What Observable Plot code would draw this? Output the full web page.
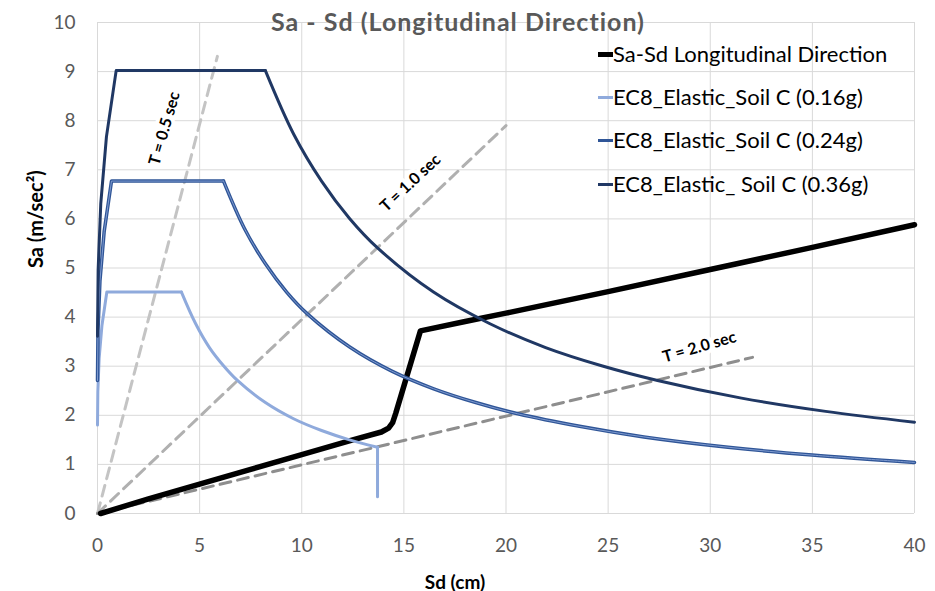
<!DOCTYPE html>
<html>
<head>
<meta charset="utf-8">
<script src="https://cdn.jsdelivr.net/npm/d3@7"></script>
<script src="https://cdn.jsdelivr.net/npm/@observablehq/plot@0.6"></script>
<style>
  body { margin: 0; background: #fff; font-family: Lato, "Open Sans", sans-serif; }
  #wrap { position: relative; width: 935px; height: 591px; overflow: hidden; }
  .legend { position: absolute; left: 598px; top: 0; }
  .item { position: absolute; left: 0; height: 26px; line-height: 26px; white-space: nowrap;
          font-size: 22px; color: #000; display: flex; align-items: center; }
  .sw { width: 15px; display: inline-block; }
</style>
</head>
<body>
<div id="wrap"></div>
<script>
// Axis ticks
const xTicks = [0, 5, 10, 15, 20, 25, 30, 35, 40];
const yTicks = [0, 1, 2, 3, 4, 5, 6, 7, 8, 9, 10];

// Capacity curve, longitudinal direction (Sd in cm, Sa in m/sec²)
const sdCap = [0.15, 2.5, 5, 7.5, 10, 12.5, 13.9, 14.25, 14.45, 14.6, 15.81, 18, 20, 25, 30, 35, 40];
const saCap = [0, 0.30, 0.60, 0.90, 1.20, 1.50, 1.66, 1.74, 1.85, 2.04, 3.72, 3.91, 4.08, 4.52, 4.97, 5.42, 5.88];

// EC8 elastic spectrum, soil C, 0.16g
const sd016 = [0, 0.016, 0.080, 0.218, 0.457, 4.11, 4.80, 5.48, 6.17, 6.85, 8.22, 9.60, 10.97, 12.34, 13.71, 13.71];
const sa016 = [1.80, 2.48, 3.16, 3.83, 4.51, 4.51, 3.87, 3.38, 3.01, 2.71, 2.26, 1.93, 1.69, 1.50, 1.35, 0.34];

// EC8 elastic spectrum, soil C, 0.24g
const sd024 = [0, 0.024, 0.120, 0.328, 0.686, 6.17, 7.20, 8.23, 9.26, 10.29, 12.35, 14.41, 16.46, 18.52, 20.58, 23.67, 26.75, 30.87, 34.99, 40.0];
const sa024 = [2.71, 3.72, 4.74, 5.75, 6.77, 6.77, 5.80, 5.08, 4.51, 4.06, 3.39, 2.90, 2.54, 2.26, 2.03, 1.77, 1.56, 1.35, 1.19, 1.04];

// EC8 elastic spectrum, soil C, 0.36g
const sd036 = [0, 0.031, 0.160, 0.437, 0.914, 8.22, 9.60, 10.97, 12.34, 13.71, 16.45, 19.19, 21.94, 24.68, 27.42, 31.53, 35.65, 40.0];
const sa036 = [3.61, 4.96, 6.31, 7.67, 9.02, 9.02, 7.73, 6.77, 6.01, 5.41, 4.51, 3.87, 3.38, 3.01, 2.71, 2.35, 2.08, 1.86];

// Constant-period radial lines (from the origin to these end points)
const periodNames = ["T = 0.5 sec", "T = 1.0 sec", "T = 2.0 sec"];
const periodEndSd = [5.87, 20.0, 32.07];
const periodEndSa = [9.31, 7.90, 3.18];
const periodColors = ["#c4c4c4", "#b0b0b0", "#8e8e8e"];
const periodLabelSd = [3.28, 15.32, 29.47];
const periodLabelSa = [7.84, 6.73, 3.39];
const periodLabelAngle = [-74, -43, -16];

const seriesNames = ["Sa-Sd Longitudinal Direction", "EC8_Elastic_Soil C (0.16g)", "EC8_Elastic_Soil C (0.24g)", "EC8_Elastic_ Soil C (0.36g)"];
const seriesColors = ["#000000", "#8faadc", "#2f5597", "#203864"];
const titleText = "Sa - Sd (Longitudinal Direction)";

const pts = (xs, ys) => xs.map((x, i) => ({x, y: ys[i]}));
const rays = periodNames.map((name, i) => [
  {x: 0, y: 0}, {x: periodEndSd[i], y: periodEndSa[i]}
]);
const labels = periodNames.map((name, i) => ({name, x: periodLabelSd[i], y: periodLabelSa[i], a: periodLabelAngle[i]}));

// A spectrum is drawn as a straight rise + plateau, then a smooth
// constant-velocity branch; a final vertical drop stays straight.
function spectrum(sd, sa, plateauEnd, dropStart, style) {
  const p = pts(sd, sa);
  const head = p.slice(0, plateauEnd + 1);
  const tail = p.slice(plateauEnd, dropStart + 1);
  const drop = p.slice(dropStart);
  const marks = [
    Plot.line(head, {x: "x", y: "y", ...style}),
    Plot.line(tail, {x: "x", y: "y", curve: "catmull-rom", ...style})
  ];
  if (drop.length > 1) marks.push(Plot.line(drop, {x: "x", y: "y", ...style}));
  return marks;
}

const chart = Plot.plot({
  width: 935,
  height: 591,
  marginLeft: 97,
  marginRight: 21,
  marginTop: 22,
  marginBottom: 78,
  x: {domain: [0, 40]},
  y: {domain: [0, 10]},
  style: {fontFamily: "Lato, 'Open Sans', sans-serif", background: "white"},
  marks: [
    Plot.gridX(xTicks, {stroke: "#d9d9d9", strokeOpacity: 1}),
    Plot.gridY(yTicks, {stroke: "#d9d9d9", strokeOpacity: 1}),
    Plot.axisX(xTicks, {tickSize: 0, tickPadding: 25, fontSize: 19, fill: "#595959", label: null}),
    Plot.axisY(yTicks, {tickSize: 0, tickPadding: 22, fontSize: 19, fill: "#595959", label: null}),
    // period rays
    ...rays.map((r, i) => Plot.line(r, {x: "x", y: "y", stroke: periodColors[i], strokeWidth: 3, strokeDasharray: "11,7"})),
    // capacity curve
    Plot.line(pts(sdCap, saCap), {x: "x", y: "y", stroke: seriesColors[0], strokeWidth: 5.5, strokeLinejoin: "round"}),
    // EC8 spectra
    ...spectrum(sd016, sa016, 5, 14, {stroke: seriesColors[1], strokeWidth: 3}),
    ...spectrum(sd024, sa024, 5, sd024.length - 1, {stroke: seriesColors[2], strokeWidth: 3.5}),
    ...spectrum(sd024, sa024, 5, sd024.length - 1, {stroke: "#7f9bd0", strokeWidth: 1}),
    ...spectrum(sd036, sa036, 5, sd036.length - 1, {stroke: seriesColors[3], strokeWidth: 3}),
    // period labels
    Plot.text(labels, {x: "x", y: "y", text: "name", rotate: "a", fontSize: 16, fontWeight: "bold", fill: "#000",
      stroke: "white", strokeWidth: 8, paintOrder: "stroke"}),
    // titles
    Plot.text([titleText], {frameAnchor: "top", dx: -48, dy: -9, fontSize: 25, fontWeight: "bold", fill: "#595959"}),
    Plot.text(["Sd (cm)"], {frameAnchor: "bottom", dx: -51, dy: 75, fontSize: 19, fontWeight: "bold", fill: "#000"}),
    Plot.text(["Sa (m/sec²)"], {frameAnchor: "left", dx: -61, rotate: -90, fontSize: 20, fontWeight: "bold", fill: "#000"})
  ]
});

// slightly wider tracking for the chart title
d3.select(chart).selectAll("text").filter(function () { return this.textContent === titleText; })
  .attr("letter-spacing", "1px");

const wrap = document.getElementById("wrap");
wrap.appendChild(chart);

// legend inside the plot area, top right
const legend = document.createElement("div");
legend.className = "legend";
const legendY = [54, 97, 140, 184];
seriesNames.forEach((name, i) => {
  const item = document.createElement("div");
  item.className = "item";
  item.style.top = (legendY[i] - 13) + "px";
  const sw = document.createElement("span");
  sw.className = "sw";
  sw.style.height = (i === 0 ? 5 : 3) + "px";
  sw.style.background = seriesColors[i];
  item.appendChild(sw);
  item.appendChild(document.createTextNode(name));
  legend.appendChild(item);
});
wrap.appendChild(legend);
</script>
</body>
</html>
